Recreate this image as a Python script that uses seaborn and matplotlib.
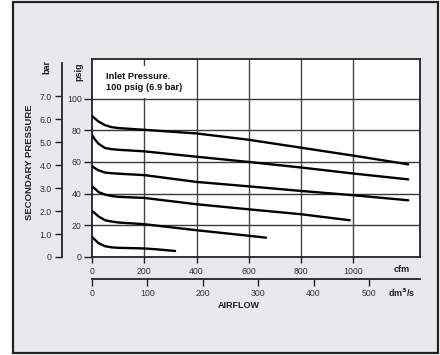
import matplotlib

matplotlib.use("Agg")

import matplotlib.pyplot as plt
import numpy as np
import pandas as pd
import seaborn as sns
from matplotlib.patches import Rectangle

# airflow (cfm) vs secondary pressure (psig), one curve per regulator setting
cfm_long = [0, 12, 25, 50, 75, 100, 200, 400, 600, 800, 1000, 1210]
psig_a = [89, 87.3, 85.5, 83.2, 82.0, 81.4, 80.3, 78.0, 74.0, 69.0, 64.0, 58.5]
psig_b = [77, 74.0, 71.5, 68.8, 68.1, 67.7, 66.7, 63.3, 60.0, 56.5, 52.7, 49.0]
psig_c = [57.5, 56.0, 54.7, 53.3, 52.9, 52.6, 51.7, 47.4, 44.6, 41.7, 39.0, 35.8]
cfm_d = [0, 12, 25, 50, 75, 100, 200, 400, 600, 800, 986]
psig_d = [44.6, 43.0, 41.0, 39.4, 38.5, 38.0, 37.3, 33.3, 30.1, 27.0, 23.2]
cfm_e = [0, 12, 25, 50, 75, 100, 200, 400, 600, 666]
psig_e = [29.0, 27.5, 25.6, 23.2, 22.4, 21.8, 20.7, 16.9, 13.4, 12.2]
cfm_f = [0, 12, 25, 50, 75, 100, 200, 250, 318]
psig_f = [12.6, 10.8, 8.7, 6.8, 6.1, 5.8, 5.4, 4.8, 3.8]

psig_ticks = [0, 20, 40, 60, 80, 100]
bar_ticks = [0, 1, 2, 3, 4, 5, 6, 7]
bar_labels = ["0", "1.0", "2.0", "3.0", "4.0", "5.0", "6.0", "7.0"]
cfm_ticks = [0, 200, 400, 600, 800, 1000]
dm3_ticks = [0, 100, 200, 300, 400, 500]

PSI_PER_BAR = 14.5038
DM3_PER_CFM = 0.47195
CFM_MAX = 1255
PSIG_MAX = 125

curves = [
    ("a", cfm_long, psig_a),
    ("b", cfm_long, psig_b),
    ("c", cfm_long, psig_c),
    ("d", cfm_d, psig_d),
    ("e", cfm_e, psig_e),
    ("f", cfm_f, psig_f),
]
df = pd.concat(
    [pd.DataFrame({"curve": name, "cfm": x, "psig": y}) for name, x, y in curves],
    ignore_index=True,
)

sns.set_style("ticks")
plt.rcParams["font.family"] = ["Liberation Sans", "DejaVu Sans"]

W, H = 440, 355
fig = plt.figure(figsize=(W / 100, H / 100), dpi=100, facecolor="white")

# light grey panel with a dark frame
fig.patches.append(
    Rectangle((13 / W, 2 / H), 425 / W, 351 / H, transform=fig.transFigure,
              facecolor="#e6eaed", edgecolor="#222222", linewidth=1.6, zorder=-5)
)


def px(x, y):
    return x / W, 1 - y / H


left, right, top, bottom = 92, 420, 59, 257
ax = fig.add_axes([left / W, 1 - bottom / H, (right - left) / W, (bottom - top) / H])
ax.set_facecolor("white")

sns.lineplot(data=df, x="cfm", y="psig", hue="curve", units="curve",
             estimator=None, sort=False, palette=["black"] * 6,
             linewidth=1.7, legend=False, ax=ax, zorder=3)

ax.set_xlim(0, CFM_MAX)
ax.set_ylim(0, PSIG_MAX)
ax.set_xlabel("")
ax.set_ylabel("")
ax.set_xticks(cfm_ticks)
ax.set_xticklabels([str(t) for t in cfm_ticks])
ax.set_yticks(psig_ticks)
ax.set_yticklabels([str(t) for t in psig_ticks])
for v in cfm_ticks[1:]:
    ax.axvline(v, color="#444444", linewidth=1.0, zorder=1)
for v in psig_ticks[1:]:
    ax.axhline(v, color="#3a3a3a", linewidth=1.0, zorder=1)
for s in ax.spines.values():
    s.set_color("#222222")
    s.set_linewidth(1.3)
ax.tick_params(axis="y", length=6, width=1.0, pad=1.5, labelsize=6.3,
               colors="#222222", labelcolor="#333333")
ax.tick_params(axis="x", length=4.5, width=1.0, pad=3, labelsize=6.3,
               colors="#222222", labelcolor="#333333")

# bar scale, offset to the left
ax_bar = ax.twinx()
ax_bar.set_ylim(0, PSIG_MAX / PSI_PER_BAR)
ax_bar.yaxis.tick_left()
ax_bar.set_yticks(bar_ticks)
ax_bar.set_yticklabels(bar_labels)
for name in ["right", "top", "bottom"]:
    ax_bar.spines[name].set_visible(False)
ax_bar.spines["left"].set_position(("outward", 30 * 72 / 100))
ax_bar.spines["left"].set_bounds(0, 8.43)
ax_bar.spines["left"].set_color("#222222")
ax_bar.spines["left"].set_linewidth(1.3)
ax_bar.tick_params(axis="y", length=5, width=1.0, pad=2.5, labelsize=6.3,
                   colors="#222222", labelcolor="#333333")

# dm3/s scale, offset below
ax_dm = ax.twiny()
ax_dm.set_xlim(0, CFM_MAX * DM3_PER_CFM)
ax_dm.xaxis.tick_bottom()
ax_dm.set_xticks(dm3_ticks)
ax_dm.set_xticklabels([str(t) for t in dm3_ticks])
for name in ["right", "top", "left"]:
    ax_dm.spines[name].set_visible(False)
ax_dm.spines["bottom"].set_position(("outward", 22 * 72 / 100))
ax_dm.spines["bottom"].set_color("#222222")
ax_dm.spines["bottom"].set_linewidth(1.3)
ax_dm.tick_params(axis="x", length=5, width=1.0, pad=2.5, labelsize=6.3,
                  colors="#222222", labelcolor="#333333")

bold = dict(fontweight="bold", color="#222222")
fig.text(*px(30, 162), "SECONDARY PRESSURE", rotation=90, ha="center", va="center",
         fontsize=6.8, **bold)
fig.text(*px(46.5, 67.5), "bar", rotation=90, ha="center", va="center", fontsize=6.5, **bold)
fig.text(*px(79, 71.5), "psig", rotation=90, ha="center", va="center", fontsize=6.5, **bold)
fig.text(*px(402, 270), "cfm", ha="center", va="center", fontsize=6.5, **bold)
fig.text(*px(402, 293), "dm$^\\mathbf{3}$/s", ha="center", va="center", fontsize=6.5, **bold)
fig.text(*px(238.5, 305), "AIRFLOW", ha="center", va="center", fontsize=6.5, **bold)
fig.text(*px(106, 82), "Inlet Pressure.\n100 psig (6.9 bar)", ha="left", va="center",
         fontsize=6.7, linespacing=1.35, fontweight="bold", color="#111111",
         bbox=dict(facecolor="white", edgecolor="none", pad=4))

fig.savefig("out.png", dpi=100, facecolor="white")
